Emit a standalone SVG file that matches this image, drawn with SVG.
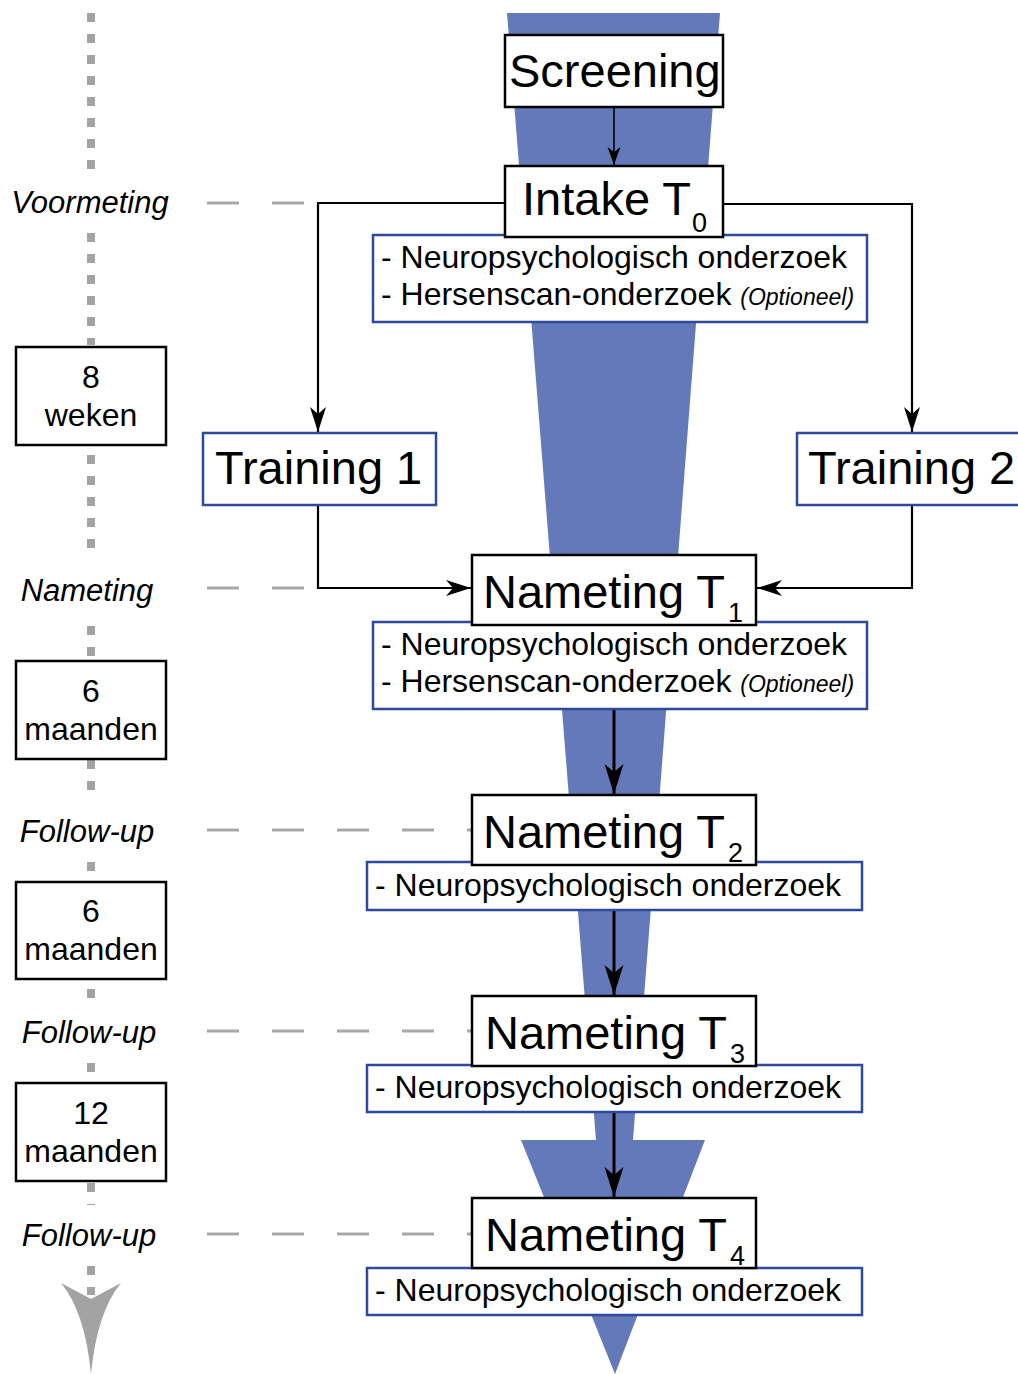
<svg xmlns="http://www.w3.org/2000/svg" width="1018" height="1374" viewBox="0 0 1018 1374">
<defs>
<style>
.big{font-family:"Liberation Sans",Arial,sans-serif;font-size:47px;fill:#000}
.sub{font-family:"Liberation Sans",Arial,sans-serif;font-size:27px;fill:#000}
.sm{font-family:"Liberation Sans",Arial,sans-serif;font-size:32px;fill:#000}
.opt{font-family:"Liberation Sans",Arial,sans-serif;font-size:23px;font-style:italic;fill:#000}
.lab{font-family:"Liberation Sans",Arial,sans-serif;font-size:31px;font-style:italic;fill:#000;text-anchor:middle}
.mid{text-anchor:middle}
.nb{fill:#fff;stroke:#000;stroke-width:2.5}
.bb{fill:#fff;stroke:#2f4a9c;stroke-width:2.5}
.con{fill:none;stroke:#000;stroke-width:2.2}
.con2{fill:none;stroke:#000;stroke-width:3}
.con1{fill:none;stroke:#000;stroke-width:1.6}
.dot{stroke:#a3a3a3;stroke-width:8;stroke-dasharray:9 12;fill:none}
.dash{stroke:#a8a8a8;stroke-width:3;stroke-dasharray:32 33;fill:none}
</style>
<marker id="ah" markerUnits="userSpaceOnUse" markerWidth="30" markerHeight="20" viewBox="-1 -10 30 20" refX="25" refY="0" orient="auto">
<path d="M0,-8 L25,0 L0,8 L7,0 Z" fill="#000"/>
</marker>
<marker id="ahs" markerUnits="userSpaceOnUse" markerWidth="22" markerHeight="16" viewBox="-1 -8 22 16" refX="18" refY="0" orient="auto">
<path d="M0,-6.5 L18,0 L0,6.5 L5,0 Z" fill="#000"/>
</marker>
<marker id="ahb" markerUnits="userSpaceOnUse" markerWidth="34" markerHeight="24" viewBox="-1 -12 34 24" refX="30" refY="0" orient="auto">
<path d="M0,-9.5 L30,0 L0,9.5 L8,0 Z" fill="#000"/>
</marker>
</defs>
<rect width="1018" height="1374" fill="#fff"/>
<polygon id="funnel" points="507,13 720,13 633,1140 705,1140 615,1374 521,1140 596,1140" fill="#6479b9"/>

<g id="timeline">
<line class="dot" x1="91" y1="13" x2="91" y2="170"/>
<line class="dot" x1="91" y1="233" x2="91" y2="345"/>
<line class="dot" x1="91" y1="455" x2="91" y2="555"/>
<line class="dot" x1="91" y1="626" x2="91" y2="660"/>
<line class="dot" x1="91" y1="760" x2="91" y2="802"/>
<line class="dot" x1="91" y1="862" x2="91" y2="882"/>
<line class="dot" x1="91" y1="989" x2="91" y2="1003"/>
<line class="dot" x1="91" y1="1063" x2="91" y2="1083"/>
<line class="dot" x1="91" y1="1183" x2="91" y2="1205"/>
<line class="dot" x1="91" y1="1266" x2="91" y2="1295"/>
<path d="M61,1283 L91,1299 L121,1283 Q97,1312 91,1374 Q85,1312 61,1283 Z" fill="#a3a3a3"/>
<line class="dash" x1="207" y1="203" x2="305" y2="203"/>
<line class="dash" x1="207" y1="588" x2="305" y2="588"/>
<line class="dash" x1="207" y1="830" x2="472" y2="830"/>
<line class="dash" x1="207" y1="1031" x2="472" y2="1031"/>
<line class="dash" x1="207" y1="1234" x2="472" y2="1234"/>
<text class="lab" x="90" y="213">Voormeting</text>
<text class="lab" x="87" y="601">Nameting</text>
<text class="lab" x="87" y="842">Follow-up</text>
<text class="lab" x="89" y="1043">Follow-up</text>
<text class="lab" x="89" y="1246">Follow-up</text>
</g>

<g id="period-8w"><rect class="nb" x="16" y="347" width="150" height="98"/><text class="sm mid" x="91" y="388">8</text><text class="sm mid" x="91" y="426">weken</text></g>
<g id="period-6m-a"><rect class="nb" x="16" y="661" width="150" height="98"/><text class="sm mid" x="91" y="702">6</text><text class="sm mid" x="91" y="740">maanden</text></g>
<g id="period-6m-b"><rect class="nb" x="16" y="882" width="150" height="97"/><text class="sm mid" x="91" y="922">6</text><text class="sm mid" x="91" y="960">maanden</text></g>
<g id="period-12m"><rect class="nb" x="16" y="1083" width="150" height="98"/><text class="sm mid" x="91" y="1124">12</text><text class="sm mid" x="91" y="1162">maanden</text></g>

<g id="connectors">
<line class="con1" x1="614" y1="107" x2="614" y2="165" marker-end="url(#ahs)"/>
<polyline class="con" points="505,203 318,203 318,432" marker-end="url(#ah)"/>
<polyline class="con" points="723,204 912,204 912,432" marker-end="url(#ah)"/>
<polyline class="con" points="318,505 318,588 471,588" marker-end="url(#ah)"/>
<polyline class="con" points="912,505 912,588 757,588" marker-end="url(#ah)"/>
<line class="con2" x1="614" y1="709" x2="614" y2="794" marker-end="url(#ahb)"/>
<line class="con2" x1="614" y1="910" x2="614" y2="995" marker-end="url(#ahb)"/>
<line class="con2" x1="614" y1="1112" x2="614" y2="1197" marker-end="url(#ahb)"/>
</g>

<g id="screening"><rect class="nb" x="505" y="35" width="218" height="72"/><text class="big" x="509" y="87">Screening</text></g>

<g id="intake-desc"><rect class="bb" x="373" y="235" width="494" height="87"/>
<text class="sm" x="381" y="268">- Neuropsychologisch onderzoek</text>
<text class="sm" x="381" y="305">- Hersenscan-onderzoek <tspan class="opt">(Optioneel)</tspan></text></g>
<g id="intake"><rect class="nb" x="505" y="166" width="218" height="71"/><text class="big" x="522" y="215">Intake T</text><text class="sub" x="692" y="232">0</text></g>

<g id="training1"><rect class="bb" x="203" y="433" width="233" height="72"/><text class="big" x="215" y="484">Training 1</text></g>
<g id="training2"><rect class="bb" x="797" y="433" width="225" height="72"/><text class="big" x="808" y="484">Training 2</text></g>

<g id="t1-desc"><rect class="bb" x="373" y="622" width="494" height="87"/>
<text class="sm" x="381" y="655">- Neuropsychologisch onderzoek</text>
<text class="sm" x="381" y="692">- Hersenscan-onderzoek <tspan class="opt">(Optioneel)</tspan></text></g>
<g id="t1"><rect class="nb" x="472" y="555" width="284" height="70"/><text class="big" x="483" y="608">Nameting T</text><text class="sub" x="728" y="622">1</text></g>

<g id="t2-desc"><rect class="bb" x="367" y="862" width="495" height="48"/><text class="sm" x="375" y="896">- Neuropsychologisch onderzoek</text></g>
<g id="t2"><rect class="nb" x="472" y="795" width="284" height="70"/><text class="big" x="483" y="848">Nameting T</text><text class="sub" x="728" y="862">2</text></g>

<g id="t3-desc"><rect class="bb" x="367" y="1065" width="495" height="47"/><text class="sm" x="375" y="1098">- Neuropsychologisch onderzoek</text></g>
<g id="t3"><rect class="nb" x="472" y="996" width="284" height="70"/><text class="big" x="485" y="1049">Nameting T</text><text class="sub" x="730" y="1063">3</text></g>

<g id="t4-desc"><rect class="bb" x="367" y="1268" width="495" height="47"/><text class="sm" x="375" y="1301">- Neuropsychologisch onderzoek</text></g>
<g id="t4"><rect class="nb" x="472" y="1198" width="284" height="70"/><text class="big" x="485" y="1251">Nameting T</text><text class="sub" x="730" y="1265">4</text></g>
</svg>
